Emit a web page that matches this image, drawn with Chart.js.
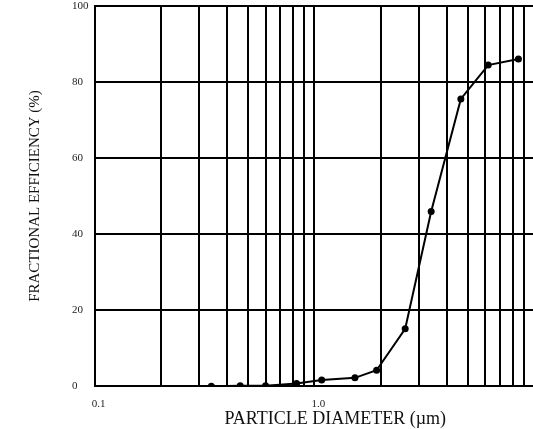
<!DOCTYPE html>
<html>
<head>
<meta charset="utf-8">
<script src="https://cdn.jsdelivr.net/npm/chart.js@4.4.1/dist/chart.umd.min.js"></script>
<style>
  html, body { margin: 0; padding: 0; background: #fff; overflow: hidden; }
  #wrap { width: 580px; height: 429px; }
</style>
</head>
<body>
<div id="wrap"><canvas id="effChart"></canvas></div>
<script>
// particle diameter (um) and fractional efficiency (%)
const diameters = [0.34, 0.46, 0.6, 0.83, 1.08, 1.53, 1.92, 2.59, 3.4, 4.64, 6.18, 8.48];
const efficiency = [0, 0.1, 0.1, 0.7, 1.6, 2.2, 4.2, 15.1, 45.9, 75.5, 84.4, 86.0];
const xGridValues = [0.1, 0.2, 0.3, 0.4, 0.5, 0.6, 0.7, 0.8, 0.9, 1, 2, 3, 4, 5, 6, 7, 8, 9, 10];
const xLabelled = { 0.1: '0.1', 1: '1.0' };
const yTicks = [0, 20, 40, 60, 80, 100];

const serif = "'Liberation Serif', 'Times New Roman', serif";

new Chart(document.getElementById('effChart'), {
  type: 'line',
  data: {
    datasets: [{
      data: diameters.map((d, i) => ({ x: d, y: efficiency[i] })),
      borderColor: '#000',
      backgroundColor: '#000',
      borderWidth: 2,
      pointRadius: 3.5,
      pointBackgroundColor: '#000',
      pointBorderWidth: 0,
      tension: 0,
    }],
  },
  options: {
    responsive: true,
    maintainAspectRatio: false,
    animation: false,
    layout: { padding: { left: 0, top: -9, right: 2, bottom: 0 } },
    plugins: {
      legend: { display: false },
      tooltip: { enabled: false },
      // y title as a left-hand chart title so the tick labels can sit flush left
      title: {
        display: true,
        position: 'left',
        fullSize: false,
        text: 'FRACTIONAL EFFICIENCY (%)',
        color: '#111',
        font: { family: serif, size: 15, weight: 'normal' },
        padding: { top: 26, bottom: 28 },
      },
    },
    scales: {
      x: {
        type: 'logarithmic',
        min: 0.1,
        max: 15.5,
        afterBuildTicks: (axis) => { axis.ticks = xGridValues.map((v) => ({ value: v })); },
        ticks: {
          autoSkip: false,
          maxRotation: 0,
          padding: 11,
          labelOffset: 4,
          color: '#222',
          font: { family: serif, size: 11 },
          callback: (v) => xLabelled[v] || '',
        },
        grid: { color: '#000', lineWidth: 2, drawTicks: false },
        border: { color: '#000', width: 2 },
        title: {
          display: true,
          text: 'PARTICLE DIAMETER (µm)',
          color: '#111',
          font: { family: serif, size: 18 },
          padding: { top: -13, bottom: -1 },
        },
      },
      y: {
        min: 0,
        max: 100,
        afterBuildTicks: (axis) => { axis.ticks = yTicks.map((v) => ({ value: v })); },
        ticks: {
          crossAlign: 'far',
          padding: 3,
          color: '#222',
          font: { family: serif, size: 11, lineHeight: 0.5 },
        },
        grid: { color: '#000', lineWidth: 2, drawTicks: false },
        border: { color: '#000', width: 2 },
      },
    },
  },
});
</script>
</body>
</html>
